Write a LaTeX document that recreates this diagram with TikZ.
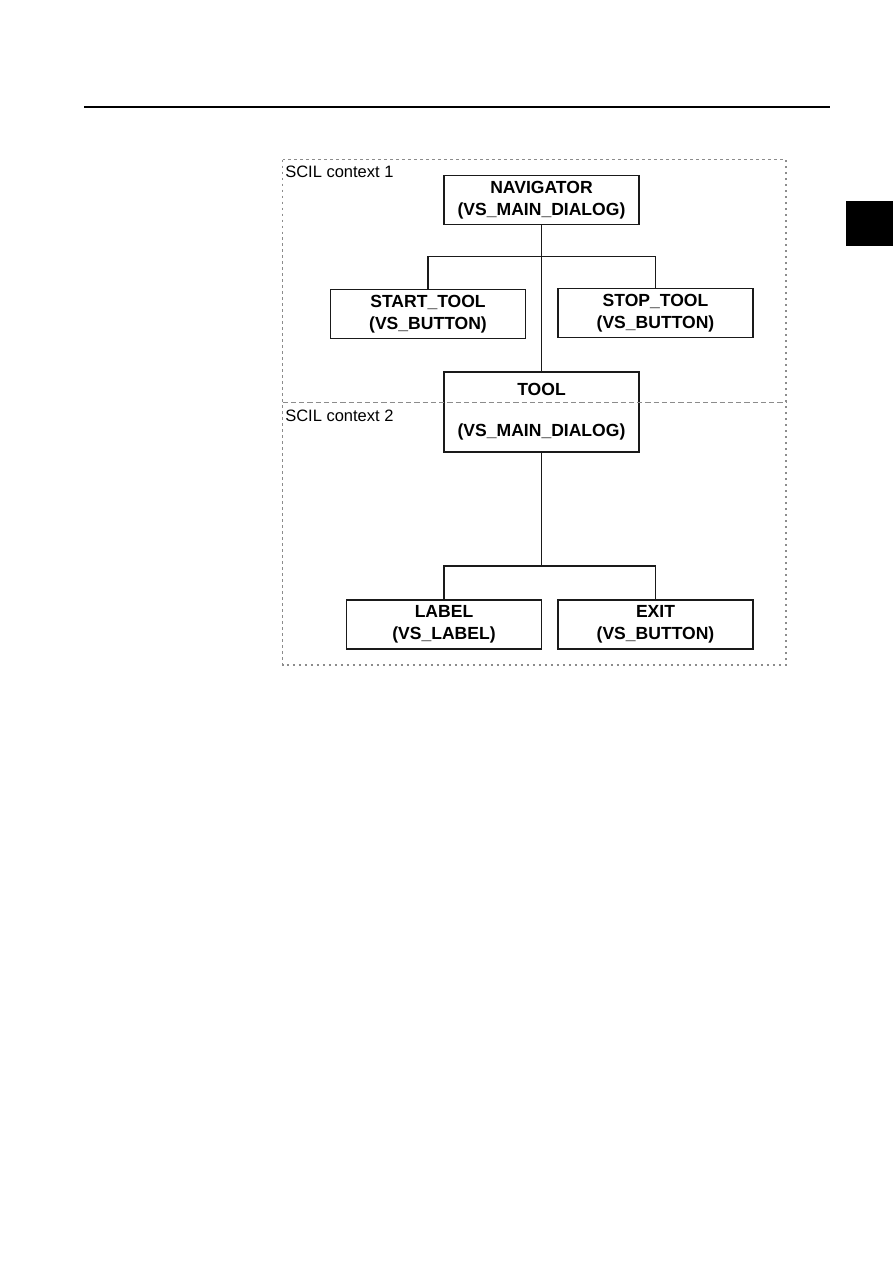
\documentclass[tikz,border=0pt]{standalone}
\usepackage{fontspec}
\setmainfont{Liberation Sans}
\usetikzlibrary{positioning}
\definecolor{ctxgray}{HTML}{8C8C8C}
\definecolor{boxblack}{HTML}{1A1A1A}

\begin{document}
\begin{tikzpicture}[
    x=0.6667pt, y=-0.6667pt,
    every node/.style={text=black},
    objbox/.style={draw=boxblack, line width=1.1pt, minimum width=130pt,
                   minimum height=32.7pt, align=center, inner sep=0pt,
                   font=\fontsize{11.7}{14.5}\selectfont\bfseries},
    ctxline/.style={ctxgray, line width=0.7pt, dash pattern=on 1.6pt off 2.4pt},
    ctxsep/.style={ctxgray, line width=0.8pt, dash pattern=on 3.5pt off 2pt},
    ctxlbl/.style={font=\fontsize{11}{13}\selectfont, anchor=west, inner sep=0pt},
    link/.style={line width=0.95pt, boxblack},
  ]

  % Page frame
  \useasboundingbox (0,0) rectangle (893,1263);
  \draw[line width=0.8pt] (84,107) -- (830,107);
  \fill (846,201) rectangle (893,246);

  % --- Context frames ---
  \draw[ctxline] (282.5,159.5) rectangle (786,665);

  % --- Context 1 objects ---
  \node[objbox] (nav)   at (541.5,200) {NAVIGATOR\\(VS\_MAIN\_DIALOG)};
  \node[objbox] (start) at (428,314)     {START\_TOOL\\(VS\_BUTTON)};
  \node[objbox] (stop)  at (655.5,313)   {STOP\_TOOL\\(VS\_BUTTON)};

  % --- Shared dialog ---
  \node[objbox, minimum height=53.3pt] (tool) at (541.5,412)
    {TOOL\\[13pt](VS\_MAIN\_DIALOG)};

  % --- Context 2 objects ---
  \node[objbox] (label) at (444,624.5)   {LABEL\\(VS\_LABEL)};
  \node[objbox] (exit)  at (655.5,624.5) {EXIT\\(VS\_BUTTON)};

  % --- Context labels ---
  \node[ctxlbl] (ctx1) at (285,172) {SCIL context 1};
  \node[ctxlbl] (ctx2) at (285,416) {SCIL context 2};

  % --- Tree links ---
  \coordinate (j2) at (541.5,567);
  \draw[link] (nav.south) -- (tool.north);
  \draw[link] (start.north) -- ++(0,-32) -| (stop.north);
  \draw[link] (tool.south) -- (j2);
  \draw[link] (label.north) -- ++(0,-33) -| (exit.north);

  % --- Context divider (drawn across the shared box) ---
  \draw[ctxsep] (282.5,402.5) -- (786,402.5);

\end{tikzpicture}
\end{document}
